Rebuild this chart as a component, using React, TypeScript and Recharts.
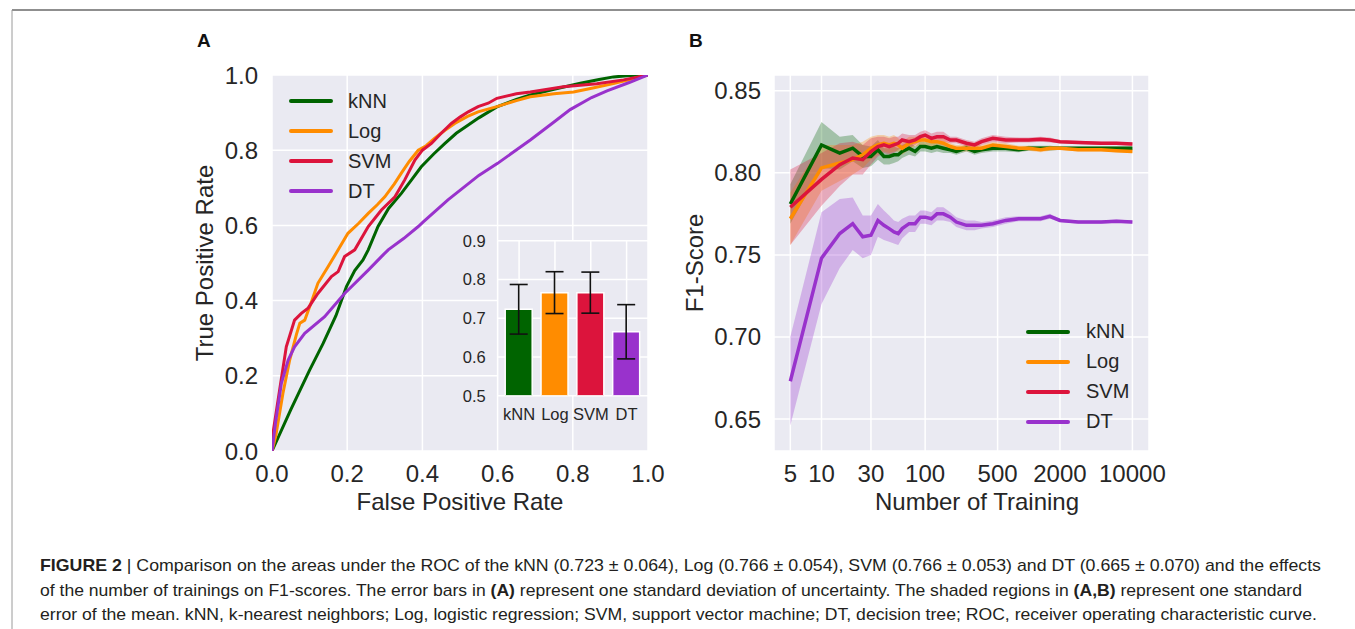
import React from "react";
import {
  LineChart,
  Line,
  XAxis,
  YAxis,
  CartesianGrid,
  Legend,
  BarChart,
  Bar,
  Cell,
  ErrorBar,
  ComposedChart,
  Area,
} from "recharts";

const FONT = '"Liberation Sans", Arial, Helvetica, sans-serif';
const NARROW = '"Liberation Sans Narrow", "Liberation Sans", Arial, sans-serif';
const INK = "#262626";
const BG = "#EAEAF2";

const models = ["kNN", "Log", "SVM", "DT"];
const modelColors = ["#006400", "#FF8C00", "#DC143C", "#9932CC"];

// panel A: ROC curves
const knnFpr = [0, 0.05, 0.1, 0.136, 0.17, 0.198, 0.22, 0.242, 0.256, 0.282, 0.31, 0.344, 0.37, 0.397, 0.43, 0.46, 0.49, 0.522, 0.55, 0.598, 0.65, 0.687, 0.75, 0.82, 0.87, 0.908, 0.96, 1];
const knnTpr = [0, 0.11, 0.215, 0.286, 0.36, 0.437, 0.48, 0.508, 0.535, 0.597, 0.645, 0.685, 0.72, 0.756, 0.79, 0.818, 0.845, 0.867, 0.886, 0.915, 0.935, 0.947, 0.962, 0.978, 0.988, 0.995, 0.999, 1];

const logFpr = [0, 0.01, 0.029, 0.047, 0.065, 0.074, 0.087, 0.105, 0.122, 0.149, 0.176, 0.202, 0.23, 0.256, 0.28, 0.3, 0.325, 0.344, 0.365, 0.389, 0.41, 0.433, 0.46, 0.486, 0.52, 0.548, 0.598, 0.65, 0.687, 0.75, 0.802, 0.85, 0.908, 0.96, 1];
const logTpr = [0, 0.04, 0.153, 0.242, 0.31, 0.34, 0.348, 0.397, 0.446, 0.49, 0.535, 0.579, 0.605, 0.632, 0.655, 0.676, 0.71, 0.739, 0.77, 0.8, 0.812, 0.832, 0.853, 0.871, 0.89, 0.902, 0.916, 0.932, 0.942, 0.95, 0.955, 0.965, 0.977, 0.99, 1];

const svmFpr = [0, 0.003, 0.02, 0.038, 0.06, 0.078, 0.096, 0.122, 0.158, 0.176, 0.193, 0.22, 0.256, 0.291, 0.327, 0.353, 0.38, 0.4, 0.424, 0.45, 0.477, 0.5, 0.522, 0.548, 0.575, 0.598, 0.65, 0.687, 0.775, 0.864, 0.935, 1];
const svmTpr = [0, 0.05, 0.16, 0.277, 0.348, 0.366, 0.38, 0.419, 0.464, 0.477, 0.517, 0.535, 0.597, 0.641, 0.676, 0.721, 0.774, 0.8, 0.818, 0.845, 0.871, 0.888, 0.902, 0.916, 0.925, 0.938, 0.95, 0.955, 0.969, 0.977, 0.987, 1];

const dtFpr = [0, 0.01, 0.025, 0.043, 0.06, 0.087, 0.14, 0.193, 0.256, 0.291, 0.309, 0.35, 0.389, 0.403, 0.468, 0.55, 0.6, 0.687, 0.75, 0.793, 0.85, 0.891, 0.95, 1];
const dtTpr = [0, 0.08, 0.18, 0.242, 0.277, 0.313, 0.357, 0.419, 0.481, 0.517, 0.535, 0.565, 0.597, 0.61, 0.668, 0.733, 0.765, 0.827, 0.875, 0.908, 0.94, 0.958, 0.98, 1];

// inset: area under ROC
const aucMean = [0.723, 0.766, 0.766, 0.665];
const aucStd = [0.064, 0.054, 0.053, 0.07];

// panel B: F1 vs number of training samples
const trainSizes = [5, 10, 15, 20, 25, 30, 35, 40, 45, 50, 55, 60, 70, 80, 90, 100, 115, 130, 150, 175, 200, 250, 300, 350, 450, 600, 800, 1000, 1300, 1600, 2000, 3000, 5000, 7000, 10000];
const knnF1 = [0.781, 0.817, 0.812, 0.815, 0.81, 0.81, 0.814, 0.81, 0.81, 0.811, 0.811, 0.813, 0.815, 0.813, 0.816, 0.816, 0.815, 0.816, 0.815, 0.814, 0.813, 0.815, 0.813, 0.814, 0.815, 0.815, 0.814, 0.815, 0.815, 0.815, 0.815, 0.815, 0.815, 0.815, 0.815];
const knnSe = [0.012, 0.014, 0.01, 0.008, 0.007, 0.006, 0.006, 0.005, 0.005, 0.005, 0.004, 0.004, 0.004, 0.003, 0.003, 0.003, 0.003, 0.003, 0.003, 0.002, 0.002, 0.002, 0.002, 0.002, 0.002, 0.002, 0.0015, 0.0015, 0.0015, 0.0015, 0.001, 0.001, 0.001, 0.001, 0.001];
const logF1 = [0.772, 0.803, 0.806, 0.808, 0.811, 0.815, 0.817, 0.818, 0.817, 0.818, 0.817, 0.815, 0.818, 0.819, 0.82, 0.82, 0.819, 0.819, 0.818, 0.816, 0.815, 0.815, 0.815, 0.815, 0.817, 0.816, 0.815, 0.815, 0.814, 0.815, 0.815, 0.814, 0.814, 0.8135, 0.813];
const logSe = [0.016, 0.014, 0.011, 0.009, 0.008, 0.007, 0.006, 0.005, 0.005, 0.005, 0.004, 0.004, 0.004, 0.003, 0.003, 0.003, 0.003, 0.003, 0.003, 0.002, 0.002, 0.002, 0.002, 0.002, 0.002, 0.002, 0.0015, 0.0015, 0.0015, 0.0015, 0.001, 0.001, 0.001, 0.001, 0.001];
const svmF1 = [0.779, 0.796, 0.805, 0.809, 0.808, 0.813, 0.816, 0.817, 0.816, 0.817, 0.818, 0.82, 0.819, 0.82, 0.822, 0.823, 0.821, 0.822, 0.822, 0.82, 0.82, 0.818, 0.817, 0.819, 0.821, 0.82, 0.82, 0.82, 0.8205, 0.82, 0.819, 0.8185, 0.818, 0.818, 0.8175];
const svmSe = [0.023, 0.016, 0.013, 0.01, 0.009, 0.008, 0.006, 0.005, 0.005, 0.005, 0.004, 0.004, 0.004, 0.003, 0.003, 0.003, 0.003, 0.003, 0.003, 0.002, 0.002, 0.002, 0.002, 0.002, 0.002, 0.002, 0.0015, 0.0015, 0.0015, 0.0015, 0.001, 0.001, 0.001, 0.001, 0.001];
const dtF1 = [0.673, 0.748, 0.763, 0.769, 0.761, 0.762, 0.771, 0.768, 0.766, 0.764, 0.763, 0.766, 0.769, 0.769, 0.773, 0.773, 0.772, 0.775, 0.775, 0.773, 0.77, 0.768, 0.768, 0.768, 0.769, 0.771, 0.772, 0.772, 0.772, 0.7735, 0.771, 0.77, 0.77, 0.7705, 0.77];
const dtSe = [0.027, 0.028, 0.021, 0.016, 0.013, 0.012, 0.01, 0.009, 0.008, 0.007, 0.007, 0.006, 0.005, 0.005, 0.004, 0.004, 0.004, 0.004, 0.004, 0.003, 0.003, 0.003, 0.003, 0.002, 0.002, 0.002, 0.0015, 0.0015, 0.0015, 0.0015, 0.001, 0.001, 0.001, 0.001, 0.001];

const rocTicks = [0, 0.2, 0.4, 0.6, 0.8, 1.0];
const aucTicks = [0.5, 0.6, 0.7, 0.8, 0.9];
const f1Ticks = [0.65, 0.7, 0.75, 0.8, 0.85];
const trainTicks = [5, 10, 30, 100, 500, 2000, 10000];

const toRoc = (fpr: number[], tpr: number[]) => fpr.map((f, i) => ({ fpr: f, tpr: tpr[i] }));
const rocKnn = toRoc(knnFpr, knnTpr);
const rocLog = toRoc(logFpr, logTpr);
const rocSvm = toRoc(svmFpr, svmTpr);
const rocDt = toRoc(dtFpr, dtTpr);

const aucData = models.map((m, i) => ({ model: m, auc: aucMean[i], err: aucStd[i] }));

const band = (m: number[], s: number[], i: number) => [m[i] - s[i], m[i] + s[i]];
const f1Rows = trainSizes.map((n, i) => ({
  n,
  kNN: knnF1[i],
  kNNBand: band(knnF1, knnSe, i),
  Log: logF1[i],
  LogBand: band(logF1, logSe, i),
  SVM: svmF1[i],
  SVMBand: band(svmF1, svmSe, i),
  DT: dtF1[i],
  DTBand: band(dtF1, dtSe, i),
}));

const bigTick = { fill: INK, fontSize: 24, fontFamily: FONT };
const smallTick = { fill: INK, fontSize: 16.5, fontFamily: FONT };

const LegendBox = ({ gap }: { gap: number }) => (
  <div style={{ fontFamily: FONT, fontSize: 20, color: INK }}>
    {models.map((m, i) => (
      <div key={m} style={{ display: "flex", alignItems: "center", height: 30 }}>
        <span
          style={{
            width: 44,
            height: 4,
            background: modelColors[i],
            marginRight: gap,
            borderRadius: 2,
          }}
        />
        {m}
      </div>
    ))}
  </div>
);

const App: React.FC = () => {
  return (
    <div style={{ position: "absolute", left: 0, top: 0, width: 1355, height: 629, background: "#fff", overflow: "hidden" }}>
      <svg width={1355} height={629} style={{ position: "absolute", left: 0, top: 0 }}>
        <line x1={12} y1={10} x2={1355} y2={10} stroke="#6a6a6a" strokeWidth={1.5} />
        <line x1={12} y1={10} x2={12} y2={629} stroke="#9a9a9a" strokeWidth={1} />

        <text x={197} y={47} fontFamily={FONT} fontWeight="bold" fontSize={19} fill="#111">A</text>
        <text x={689} y={47} fontFamily={FONT} fontWeight="bold" fontSize={19} fill="#111">B</text>

        <text x={460} y={510} textAnchor="middle" fontFamily={FONT} fontSize={24} fill={INK}>False Positive Rate</text>
        <text transform="translate(213,263) rotate(-90)" textAnchor="middle" fontFamily={FONT} fontSize={24} fill={INK}>True Positive Rate</text>
        <text transform="translate(451.5,318) rotate(-90)" textAnchor="middle" fontFamily={FONT} fontSize={17} fill={INK}>Area under ROC</text>
        <text x={977} y={510} textAnchor="middle" fontFamily={FONT} fontSize={24} fill={INK}>Number of Training</text>
        <text transform="translate(703,263) rotate(-90)" textAnchor="middle" fontFamily={FONT} fontSize={24} fill={INK}>F1-Score</text>

        <text x={40} y={571} textLength={1281} lengthAdjust="spacingAndGlyphs" fontFamily={NARROW} fontSize={17} fill="#231F20">
          <tspan fontWeight="bold">FIGURE 2</tspan>
          <tspan>{" | Comparison on the areas under the ROC of the kNN (0.723 \u00b1 0.064), Log (0.766 \u00b1 0.054), SVM (0.766 \u00b1 0.053) and DT (0.665 \u00b1 0.070) and the effects"}</tspan>
        </text>
        <text x={40} y={596} textLength={1262} lengthAdjust="spacingAndGlyphs" fontFamily={NARROW} fontSize={17} fill="#231F20">
          <tspan>{"of the number of trainings on F1-scores. The error bars in "}</tspan>
          <tspan fontWeight="bold">(A)</tspan>
          <tspan>{" represent one standard deviation of uncertainty. The shaded regions in "}</tspan>
          <tspan fontWeight="bold">(A,B)</tspan>
          <tspan>{" represent one standard"}</tspan>
        </text>
        <text x={40} y={620} textLength={1277} lengthAdjust="spacingAndGlyphs" fontFamily={NARROW} fontSize={17} fill="#231F20">
          error of the mean. kNN, k-nearest neighbors; Log, logistic regression; SVM, support vector machine; DT, decision tree; ROC, receiver operating characteristic curve.
        </text>
      </svg>

      {/* panel A */}
      <div style={{ position: "absolute", left: 180, top: 60 }}>
        <LineChart width={510} height={460} margin={{ top: 15, right: 42, left: 32, bottom: 39 }}>
          <CartesianGrid fill={BG} stroke="#fff" strokeWidth={1.5} />
          <XAxis
            dataKey="fpr"
            type="number"
            domain={[0, 1]}
            ticks={rocTicks}
            allowDataOverflow
            tickFormatter={(v: number) => v.toFixed(1)}
            axisLine={false}
            tickLine={false}
            tickSize={0}
            tickMargin={14}
            height={30}
            tick={bigTick}
          />
          <YAxis
            type="number"
            domain={[0, 1]}
            ticks={rocTicks}
            allowDataOverflow
            tickFormatter={(v: number) => v.toFixed(1)}
            axisLine={false}
            tickLine={false}
            tickSize={0}
            tickMargin={14}
            width={60}
            tick={bigTick}
          />
          <Line data={rocKnn} dataKey="tpr" name="kNN" type="linear" stroke={modelColors[0]} strokeWidth={3} dot={false} isAnimationActive={false} />
          <Line data={rocLog} dataKey="tpr" name="Log" type="linear" stroke={modelColors[1]} strokeWidth={3} dot={false} isAnimationActive={false} />
          <Line data={rocSvm} dataKey="tpr" name="SVM" type="linear" stroke={modelColors[2]} strokeWidth={3} dot={false} isAnimationActive={false} />
          <Line data={rocDt} dataKey="tpr" name="DT" type="linear" stroke={modelColors[3]} strokeWidth={3} dot={false} isAnimationActive={false} />
          <Legend
            layout="vertical"
            align="center"
            verticalAlign="middle"
            wrapperStyle={{ left: 109, top: 26, width: "auto", height: "auto" }}
            content={() => <LegendBox gap={15} />}
          />
        </LineChart>
      </div>

      {/* inset bar chart */}
      <div style={{ position: "absolute", left: 430, top: 228 }}>
        <BarChart width={220} height={210} data={aucData} margin={{ top: 12.7, right: 2, left: 23.7, bottom: 12.3 }} barSize={27}>
          <CartesianGrid fill={BG} stroke="#fff" strokeWidth={1.5} />
          <XAxis
            dataKey="model"
            padding={{ left: 3.5, right: 3.5 }}
            axisLine={false}
            tickLine={false}
            tickSize={0}
            tickMargin={13}
            height={30}
            interval={0}
            tick={smallTick}
          />
          <YAxis
            type="number"
            domain={[0.5, 0.9]}
            ticks={aucTicks}
            allowDataOverflow
            tickFormatter={(v: number) => v.toFixed(1)}
            axisLine={false}
            tickLine={false}
            tickSize={0}
            tickMargin={12}
            width={44}
            tick={smallTick}
          />
          <Bar dataKey="auc" stroke="#fff" strokeWidth={1.5} isAnimationActive={false}>
            {aucData.map((d, i) => (
              <Cell key={d.model} fill={modelColors[i]} />
            ))}
            <ErrorBar dataKey="err" direction="y" width={9} stroke="#111" strokeWidth={1.6} />
          </Bar>
        </BarChart>
      </div>

      {/* panel B */}
      <div style={{ position: "absolute", left: 690, top: 60 }}>
        <ComposedChart width={510} height={460} data={f1Rows} margin={{ top: 15, right: 51, left: 14, bottom: 39 }}>
          <CartesianGrid fill={BG} stroke="#fff" strokeWidth={1.5} />
          <XAxis
            dataKey="n"
            type="number"
            scale="log"
            domain={[3.48, 14460]}
            ticks={trainTicks}
            allowDataOverflow
            axisLine={false}
            tickLine={false}
            tickSize={0}
            tickMargin={14}
            height={30}
            interval={0}
            tick={bigTick}
          />
          <YAxis
            type="number"
            domain={[0.6305, 0.8596]}
            ticks={f1Ticks}
            allowDataOverflow
            tickFormatter={(v: number) => v.toFixed(2)}
            axisLine={false}
            tickLine={false}
            tickSize={0}
            tickMargin={13}
            width={70}
            tick={bigTick}
          />
          <Area dataKey="kNNBand" type="linear" stroke="none" fill={modelColors[0]} fillOpacity={0.3} isAnimationActive={false} />
          <Line dataKey="kNN" type="linear" stroke={modelColors[0]} strokeWidth={3.5} dot={false} isAnimationActive={false} />
          <Area dataKey="LogBand" type="linear" stroke="none" fill={modelColors[1]} fillOpacity={0.3} isAnimationActive={false} />
          <Line dataKey="Log" type="linear" stroke={modelColors[1]} strokeWidth={3.5} dot={false} isAnimationActive={false} />
          <Area dataKey="SVMBand" type="linear" stroke="none" fill={modelColors[2]} fillOpacity={0.3} isAnimationActive={false} />
          <Line dataKey="SVM" type="linear" stroke={modelColors[2]} strokeWidth={3.5} dot={false} isAnimationActive={false} />
          <Area dataKey="DTBand" type="linear" stroke="none" fill={modelColors[3]} fillOpacity={0.3} isAnimationActive={false} />
          <Line dataKey="DT" type="linear" stroke={modelColors[3]} strokeWidth={3.5} dot={false} isAnimationActive={false} />
          <Legend
            layout="vertical"
            align="center"
            verticalAlign="middle"
            wrapperStyle={{ left: 336, top: 256.7, width: "auto", height: "auto" }}
            content={() => <LegendBox gap={16} />}
          />
        </ComposedChart>
      </div>
    </div>
  );
};

export default App;
